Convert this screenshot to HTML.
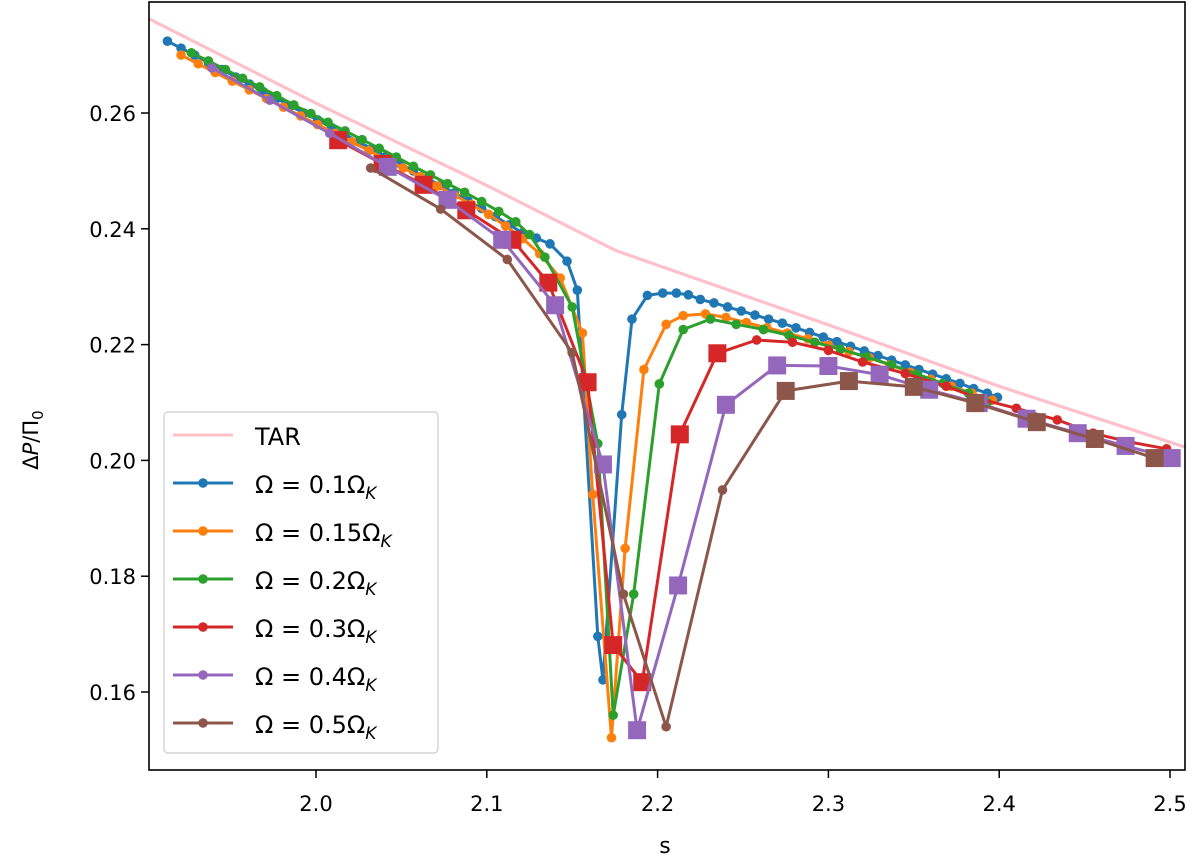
<!DOCTYPE html>
<html><head><meta charset="utf-8"><style>
body{margin:0;background:#fff}
svg text{font-family:"DejaVu Sans","Liberation Sans",sans-serif;fill:#000}
</style></head><body>
<svg id="chart" width="1200" height="862" viewBox="0 0 1200 862" xmlns="http://www.w3.org/2000/svg">
<rect x="0" y="0" width="1200" height="862" fill="#fff"/>
<g id="plot"></g>
<g id="axes"></g>
<g id="legend"></g>
</svg>
<script>
const xTicks=[2.0,2.1,2.2,2.3,2.4,2.5];
const xTickLabels=["2.0","2.1","2.2","2.3","2.4","2.5"];
const yTicks=[0.16,0.18,0.20,0.22,0.24,0.26];
const yTickLabels=["0.16","0.18","0.20","0.22","0.24","0.26"];
const tarS=[1.90,2.0,2.1,2.175,2.2,2.3,2.4,2.51];
const tarV=[0.2766,0.2617,0.2475,0.2363,0.2337,0.2234,0.2128,0.2022];
const blueS=[1.913,1.921,1.929,1.937,1.945,1.953,1.961,1.969,1.977,1.985,1.993,2.001,2.009,2.017,2.025,2.033,2.041,2.049,2.057,2.065,2.073,2.081,2.089,2.097,2.105,2.113,2.121,2.129,2.137,2.147,2.153,2.165,2.168,2.179,2.185,2.194,2.203,2.211,2.218,2.225,2.233,2.241,2.249,2.257,2.265,2.273,2.281,2.289,2.297,2.305,2.313,2.321,2.329,2.337,2.345,2.353,2.361,2.369,2.377,2.385,2.393,2.399];
const blueV=[0.2724,0.2712,0.2700,0.2687,0.2675,0.2662,0.2650,0.2637,0.2625,0.2612,0.2600,0.2588,0.2575,0.2563,0.2550,0.2538,0.2525,0.2513,0.2500,0.2487,0.2475,0.2462,0.2448,0.2435,0.2421,0.2407,0.2393,0.2384,0.2374,0.2344,0.2294,0.1696,0.1621,0.2079,0.2244,0.2285,0.2289,0.2289,0.2286,0.2278,0.2272,0.2265,0.2258,0.2251,0.2244,0.2237,0.2229,0.2221,0.2213,0.2205,0.2197,0.2189,0.2181,0.2173,0.2165,0.2157,0.2149,0.2141,0.2133,0.2124,0.2116,0.2109];
const orangeS=[1.921,1.931,1.941,1.951,1.961,1.971,1.981,1.991,2.001,2.011,2.021,2.031,2.041,2.051,2.061,2.071,2.081,2.091,2.101,2.111,2.121,2.131,2.143,2.156,2.162,2.173,2.181,2.192,2.205,2.215,2.228,2.240,2.252,2.264,2.276,2.288,2.300,2.312,2.324,2.336,2.348,2.360,2.372,2.384,2.396];
const orangeV=[0.2700,0.2685,0.2670,0.2655,0.2640,0.2625,0.2610,0.2595,0.2580,0.2565,0.2550,0.2535,0.2520,0.2505,0.2490,0.2474,0.2458,0.2442,0.2425,0.2405,0.2383,0.2357,0.2315,0.2220,0.1941,0.1521,0.1848,0.2157,0.2235,0.2250,0.2253,0.2247,0.2238,0.2229,0.2220,0.2210,0.2199,0.2188,0.2177,0.2165,0.2152,0.2140,0.2128,0.2116,0.2104];
const greenS=[1.927,1.937,1.947,1.957,1.967,1.977,1.987,1.997,2.007,2.017,2.027,2.037,2.047,2.057,2.067,2.077,2.087,2.097,2.107,2.117,2.125,2.134,2.150,2.165,2.174,2.186,2.201,2.215,2.231,2.246,2.262,2.277,2.292,2.307,2.322,2.337,2.352,2.367,2.382,2.393];
const greenV=[0.2704,0.2690,0.2675,0.2660,0.2645,0.2630,0.2614,0.2599,0.2584,0.2569,0.2554,0.2539,0.2524,0.2508,0.2493,0.2478,0.2463,0.2447,0.2430,0.2412,0.2390,0.2351,0.2265,0.2029,0.1560,0.1769,0.2132,0.2226,0.2244,0.2235,0.2226,0.2216,0.2204,0.2192,0.2179,0.2165,0.2149,0.2133,0.2116,0.2100];
const redS=[2.013,2.039,2.063,2.088,2.115,2.136,2.159,2.174,2.191,2.213,2.235,2.258,2.279,2.300,2.320,2.345,2.369,2.390,2.410,2.434,2.455,2.476,2.498];
const redV=[0.2553,0.2512,0.2476,0.2432,0.2381,0.2307,0.2135,0.1681,0.1617,0.2045,0.2185,0.2208,0.2204,0.2190,0.2170,0.2150,0.2128,0.2105,0.2090,0.2070,0.2047,0.2032,0.2020];
const redM=["s","s","s","s","s","s","s","s","s","s","s","o","o","o","o","o","o","o","o","o","o","o","o"];
const purpleS=[1.939,1.973,2.008,2.042,2.077,2.109,2.140,2.168,2.188,2.212,2.240,2.270,2.300,2.330,2.359,2.388,2.416,2.446,2.474,2.501];
const purpleV=[0.2678,0.2622,0.2565,0.2507,0.2450,0.2381,0.2268,0.1993,0.1534,0.1784,0.2096,0.2164,0.2163,0.2148,0.2122,0.2099,0.2072,0.2047,0.2025,0.2004];
const purpleM=["o","o","o","s","s","s","s","s","s","s","s","s","s","s","s","s","s","s","s","s"];
const brownS=[2.032,2.073,2.112,2.150,2.180,2.205,2.238,2.275,2.312,2.350,2.386,2.422,2.456,2.491];
const brownV=[0.2505,0.2434,0.2347,0.2186,0.1769,0.1540,0.1949,0.2120,0.2137,0.2127,0.2099,0.2066,0.2037,0.2004];
const brownM=["o","o","o","o","o","o","o","s","s","s","s","s","s","s"];
const legendLabels=["TAR","0.1","0.15","0.2","0.3","0.4","0.5"];

const L=149,R=1185,T=2,B=770;
function X(s){return 316+(s-2.0)*1708;}
function Y(v){return 113+(0.26-v)*5790;}
const NS="http://www.w3.org/2000/svg";
function mk(tag,attrs,parent){const e=document.createElementNS(NS,tag);for(const k in attrs)e.setAttribute(k,attrs[k]);parent.appendChild(e);return e;}
const plot=document.getElementById('plot'),axes=document.getElementById('axes'),legend=document.getElementById('legend');
const defs=mk('defs',{},document.getElementById('chart'));
const cp=mk('clipPath',{id:'clip'},defs);mk('rect',{x:L,y:T,width:R-L,height:B-T},cp);
plot.setAttribute('clip-path','url(#clip)');

function pts(S,V){return S.map((s,i)=>X(s).toFixed(1)+','+Y(V[i]).toFixed(1)).join(' ');}
const tar=mk('polyline',{points:pts(tarS,tarV),fill:'none',stroke:'#ffc0cb','stroke-width':3.2},plot);



const series=[
 {n:'omega-0.1',c:'#1f77b4',S:blueS,V:blueV,M:null},
 {n:'omega-0.15',c:'#ff7f0e',S:orangeS,V:orangeV,M:null},
 {n:'omega-0.2',c:'#2ca02c',S:greenS,V:greenV,M:null},
 {n:'omega-0.3',c:'#d62728',S:redS,V:redV,M:redM},
 {n:'omega-0.4',c:'#9467bd',S:purpleS,V:purpleV,M:purpleM},
 {n:'omega-0.5',c:'#8c564b',S:brownS,V:brownV,M:brownM}];
series.forEach(sr=>{
 const g=mk('g',{},plot);
 
 
 const ln=mk('polyline',{points:pts(sr.S,sr.V),fill:'none',stroke:sr.c,'stroke-width':3,'stroke-linejoin':'round'},g);
 
 
 sr.S.forEach((s,i)=>{
  const x=X(s),y=Y(sr.V[i]);let m;
  if(sr.M&&sr.M[i]==='s'){m=mk('rect',{x:x-9,y:y-9,width:18,height:18,fill:sr.c},g);}
  else{m=mk('circle',{cx:x,cy:y,r:4.8,fill:sr.c},g);}
  
  
 });
});

const fr=mk('rect',{x:L,y:T,width:R-L,height:B-T,fill:'none',stroke:'#000','stroke-width':1.6},axes);


xTicks.forEach((t,i)=>{
 const x=X(t);
 const tk=mk('line',{x1:x,x2:x,y1:B,y2:B+8,stroke:'#000','stroke-width':1.5},axes);
 
 
 const tl=mk('text',{x:x,y:811,'font-size':21,'text-anchor':'middle'},axes);tl.textContent=xTickLabels[i];
 
 
});
yTicks.forEach((t,i)=>{
 const y=Y(t);
 const tk=mk('line',{x1:L-8,x2:L,y1:y,y2:y,stroke:'#000','stroke-width':1.5},axes);
 
 
 const tl=mk('text',{x:L-13,y:y+8,'font-size':21,'text-anchor':'end'},axes);tl.textContent=yTickLabels[i];
 
 
});
const xt=mk('text',{x:665,y:853,'font-size':22,'text-anchor':'middle'},axes);xt.textContent='s';


const yt=mk('text',{x:0,y:0,'font-size':21,'text-anchor':'middle',transform:'translate(38,440) rotate(-90)'},axes);
yt.innerHTML='Δ<tspan font-style="italic">P</tspan>/Π<tspan font-size="15" dy="5">0</tspan>';



const lb=mk('rect',{x:164,y:412,width:274,height:341,rx:4,fill:'#fff','fill-opacity':0.85,stroke:'#ccc','stroke-width':1.2},legend);


const cols=['#ffc0cb','#1f77b4','#ff7f0e','#2ca02c','#d62728','#9467bd','#8c564b'];
legendLabels.forEach((lab,i)=>{
 const y=435+i*48;
 const g=mk('g',{},legend);
 
 
 mk('line',{x1:173,x2:233,y1:y,y2:y,stroke:cols[i],'stroke-width':3},g);
 if(i>0)mk('circle',{cx:203,cy:y,r:4.8,fill:cols[i]},g);
 const t=mk('text',{x:255,y:y+10,'font-size':24},g);
 if(i===0)t.textContent=lab;
 else t.innerHTML='Ω = '+lab+'Ω<tspan font-size="17" font-style="italic" dy="6">K</tspan>';
});
</script>
</body></html>
